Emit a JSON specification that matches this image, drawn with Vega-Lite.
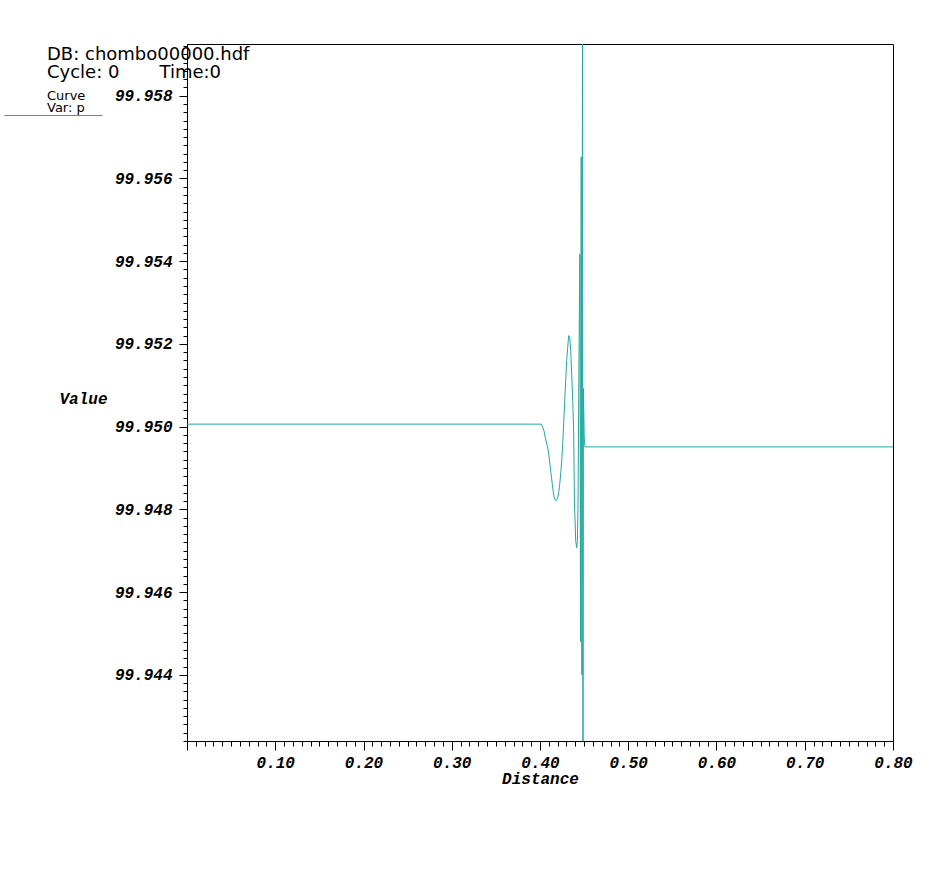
{
  "$schema": "https://vega.github.io/schema/vega-lite/v6.json",
  "width": 706,
  "height": 697,
  "autosize": {"type": "none"},
  "padding": {"left": 187, "top": 44, "right": 48, "bottom": 132},
  "background": "white",
  "config": {"view": {"stroke": "black", "strokeWidth": 1}},
  "title": {
    "text": ["DB: chombo00000.hdf", "Cycle: 0\u00a0\u00a0\u00a0\u00a0\u00a0\u00a0\u00a0Time:0"],
    "subtitle": ["Curve", "Var: p"],
    "anchor": "start",
    "frame": "group",
    "dx": -140,
    "dy": 81,
    "font": "DejaVu Sans",
    "fontSize": 18,
    "fontWeight": "normal",
    "lineHeight": 18,
    "color": "black",
    "subtitleFont": "DejaVu Sans",
    "subtitleFontSize": 13,
    "subtitleLineHeight": 12,
    "subtitlePadding": 8,
    "subtitleColor": "black"
  },
  "data": {
    "values": [
      {"x": 0, "p": 99.95006, "series": "p"},
      {"x": 0.4015, "p": 99.95006, "series": "p"},
      {"x": 0.4024, "p": 99.95002, "series": "p"},
      {"x": 0.4045, "p": 99.9499, "series": "p"},
      {"x": 0.406, "p": 99.94973, "series": "p"},
      {"x": 0.4079, "p": 99.94957, "series": "p"},
      {"x": 0.4095, "p": 99.94941, "series": "p"},
      {"x": 0.4106, "p": 99.94921, "series": "p"},
      {"x": 0.4117, "p": 99.94901, "series": "p"},
      {"x": 0.4129, "p": 99.9488, "series": "p"},
      {"x": 0.414, "p": 99.9486, "series": "p"},
      {"x": 0.4151, "p": 99.9484, "series": "p"},
      {"x": 0.4166, "p": 99.94824, "series": "p"},
      {"x": 0.4185, "p": 99.94821, "series": "p"},
      {"x": 0.42, "p": 99.94828, "series": "p"},
      {"x": 0.4212, "p": 99.9484, "series": "p"},
      {"x": 0.4223, "p": 99.9486, "series": "p"},
      {"x": 0.4234, "p": 99.94885, "series": "p"},
      {"x": 0.4246, "p": 99.94917, "series": "p"},
      {"x": 0.4257, "p": 99.94957, "series": "p"},
      {"x": 0.4268, "p": 99.95006, "series": "p"},
      {"x": 0.428, "p": 99.95062, "series": "p"},
      {"x": 0.4291, "p": 99.95111, "series": "p"},
      {"x": 0.4302, "p": 99.9516, "series": "p"},
      {"x": 0.4314, "p": 99.95192, "series": "p"},
      {"x": 0.4325, "p": 99.9522, "series": "p"},
      {"x": 0.4337, "p": 99.95216, "series": "p"},
      {"x": 0.4348, "p": 99.95184, "series": "p"},
      {"x": 0.4359, "p": 99.95127, "series": "p"},
      {"x": 0.4371, "p": 99.95062, "series": "p"},
      {"x": 0.4382, "p": 99.94982, "series": "p"},
      {"x": 0.439, "p": 99.9482, "series": "p"},
      {"x": 0.4405, "p": 99.94723, "series": "p"},
      {"x": 0.4416, "p": 99.94707, "series": "p"},
      {"x": 0.4424, "p": 99.94723, "series": "p"},
      {"x": 0.4431, "p": 99.94812, "series": "p"},
      {"x": 0.4439, "p": 99.95079, "series": "p"},
      {"x": 0.4447, "p": 99.95305, "series": "p"},
      {"x": 0.4452, "p": 99.95417, "series": "p"},
      {"x": 0.4459, "p": 99.9448, "series": "p"},
      {"x": 0.4467, "p": 99.95652, "series": "p"},
      {"x": 0.4475, "p": 99.944, "series": "p"},
      {"x": 0.4482, "p": 99.962, "series": "p"},
      {"x": 0.4487, "p": 99.94, "series": "p"},
      {"x": 0.4492, "p": 99.95092, "series": "p"},
      {"x": 0.4501, "p": 99.94975, "series": "p"},
      {"x": 0.4509, "p": 99.94951, "series": "p"},
      {"x": 0.8, "p": 99.94951, "series": "p"}
    ]
  },
  "mark": {"type": "line", "strokeWidth": 1, "clip": true},
  "encoding": {
    "x": {
      "field": "x",
      "type": "quantitative",
      "scale": {"domain": [0, 0.8], "nice": false, "zero": false},
      "axis": {
        "values": [0, 0.01, 0.02, 0.03, 0.04, 0.05, 0.06, 0.07, 0.08, 0.09, 0.1, 0.11, 0.12, 0.13, 0.14, 0.15, 0.16, 0.17, 0.18, 0.19, 0.2, 0.21, 0.22, 0.23, 0.24, 0.25, 0.26, 0.27, 0.28, 0.29, 0.3, 0.31, 0.32, 0.33, 0.34, 0.35, 0.36, 0.37, 0.38, 0.39, 0.4, 0.41, 0.42, 0.43, 0.44, 0.45, 0.46, 0.47, 0.48, 0.49, 0.5, 0.51, 0.52, 0.53, 0.54, 0.55, 0.56, 0.57, 0.58, 0.59, 0.6, 0.61, 0.62, 0.63, 0.64, 0.65, 0.66, 0.67, 0.68, 0.69, 0.7, 0.71, 0.72, 0.73, 0.74, 0.75, 0.76, 0.77, 0.78, 0.79, 0.8],
        "tickSize": {"condition": {"test": "abs(datum.value*10-round(datum.value*10))<0.001", "value": 9}, "value": 5},
        "labelExpr": "(abs(datum.value*10-round(datum.value*10))<0.001 && datum.value>0.05) ? format(datum.value,'.2f') : ''",
        "labelFont": "Liberation Mono",
        "labelFontSize": 16,
        "labelFontWeight": "bold",
        "labelFontStyle": "italic",
        "labelColor": "black",
        "labelPadding": 4,
        "labelOverlap": false,
        "labelFlush": false,
        "grid": false,
        "domainColor": "black",
        "tickColor": "black",
        "title": "Distance",
        "titleFont": "Liberation Mono",
        "titleFontSize": 16,
        "titleFontWeight": "bold",
        "titleFontStyle": "italic",
        "titleColor": "black",
        "titleX": 353,
        "titleY": 37,
        "titleAlign": "center",
        "titleBaseline": "middle"
      }
    },
    "y": {
      "field": "p",
      "type": "quantitative",
      "scale": {"domain": [99.9424, 99.95925], "nice": false, "zero": false},
      "axis": {
        "values": [99.9424, 99.9426, 99.9428, 99.943, 99.9432, 99.9434, 99.9436, 99.9438, 99.944, 99.9442, 99.9444, 99.9446, 99.9448, 99.945, 99.9452, 99.9454, 99.9456, 99.9458, 99.946, 99.9462, 99.9464, 99.9466, 99.9468, 99.947, 99.9472, 99.9474, 99.9476, 99.9478, 99.948, 99.9482, 99.9484, 99.9486, 99.9488, 99.949, 99.9492, 99.9494, 99.9496, 99.9498, 99.95, 99.9502, 99.9504, 99.9506, 99.9508, 99.951, 99.9512, 99.9514, 99.9516, 99.9518, 99.952, 99.9522, 99.9524, 99.9526, 99.9528, 99.953, 99.9532, 99.9534, 99.9536, 99.9538, 99.954, 99.9542, 99.9544, 99.9546, 99.9548, 99.955, 99.9552, 99.9554, 99.9556, 99.9558, 99.956, 99.9562, 99.9564, 99.9566, 99.9568, 99.957, 99.9572, 99.9574, 99.9576, 99.9578, 99.958, 99.9582, 99.9584, 99.9586, 99.9588, 99.959, 99.9592],
        "tickSize": {"condition": {"test": "abs(datum.value*500-round(datum.value*500))<0.01", "value": 8}, "value": 4},
        "labelExpr": "abs(datum.value*500-round(datum.value*500))<0.01 ? format(datum.value,'.3f') : ''",
        "labelFont": "Liberation Mono",
        "labelFontSize": 16,
        "labelFontWeight": "bold",
        "labelFontStyle": "italic",
        "labelColor": "black",
        "labelPadding": 7,
        "labelOverlap": false,
        "labelFlush": false,
        "grid": false,
        "domainColor": "black",
        "tickColor": "black",
        "title": "Value",
        "titleFont": "Liberation Mono",
        "titleFontSize": 16,
        "titleFontWeight": "bold",
        "titleFontStyle": "italic",
        "titleColor": "black",
        "titleAngle": 0,
        "titleX": -104,
        "titleY": 354,
        "titleAlign": "center",
        "titleBaseline": "middle"
      }
    },
    "color": {
      "field": "series",
      "type": "nominal",
      "scale": {"range": ["#22a8a0"]},
      "legend": {
        "orient": "none",
        "legendX": -183,
        "legendY": 22,
        "title": null,
        "symbolType": "stroke",
        "symbolSize": 9604,
        "symbolStrokeWidth": 1,
        "labelExpr": "''",
        "padding": 0
      }
    }
  }
}
